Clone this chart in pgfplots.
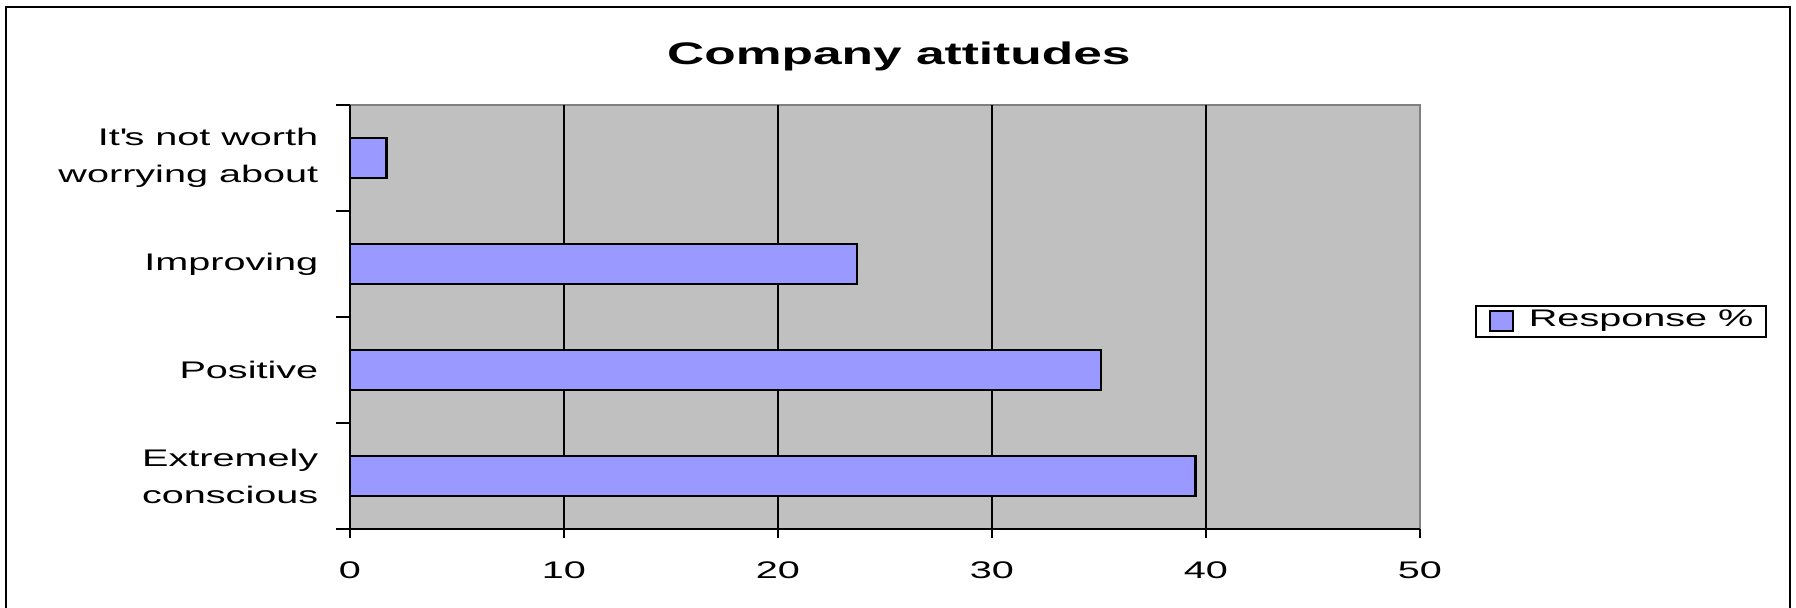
\documentclass[border=0pt]{standalone}
\usepackage{fontspec}
\setmainfont{Liberation Sans}[FakeStretch=1.65]
\usepackage{pgfplots}
\pgfplotsset{compat=1.18}

\definecolor{barblue}{RGB}{153,153,255}
\definecolor{plotgray}{RGB}{192,192,192}
\definecolor{edgegray}{RGB}{128,128,128}

\begin{document}
\begin{tikzpicture}[x=0.25pt,y=0.25pt]
\useasboundingbox (0,0) rectangle (1796,608);
% chart frame (bottom edge is cut off in the original)
\draw[line width=0.7pt] (6,-20) -- (6,601) -- (1790,601) -- (1790,-20);
\coordinate (o) at (350,79);
\begin{axis}[
    at={(o)}, anchor=south west,
    scale only axis,
    width=267.5pt, height=106pt,
    xbar, bar width=10pt,
    xmin=0, xmax=50, ymin=-0.5, ymax=3.5,
    axis x line=bottom, axis y line=left,
    axis line style={-, line width=0.5pt, black},
    axis background/.style={fill=plotgray, draw=edgegray, line width=0.4pt},
    tick align=outside,
    xtick={0,10,...,50},
    major tick length=2.25pt,
    ytick={0,1,2,3},
    major y tick style={draw=none},
    minor ytick={-0.5,0.5,1.5,2.5,3.5},
    minor tick length=3.5pt,
    minor y tick style={draw=black, line width=0.4pt},
    x tick style={black, line width=0.4pt},
    extra x ticks={10,20,30,40},
    extra x tick labels={},
    extra x tick style={xmajorgrids=true},
    major grid style={black, line width=0.45pt},
    yticklabels={{Extremely\\conscious},Positive,Improving,{It\textquotesingle s not worth\\worrying about}},
    /pgf/number format/assume math mode=true,
    tick label style={font=\fontsize{6}{9.25}\selectfont},
    xticklabel style={anchor=center, yshift=-8pt},
    yticklabel style={anchor=east, align=right, inner sep=0pt, xshift=-5.5pt},
    title={Company attitudes},
    title style={at={(0.513,1)}, anchor=base, yshift=4.1pt, font=\fontsize{7.8}{9}\selectfont\bfseries},
    legend image code/.code={\draw[#1, line width=0.5pt] (0pt,-2.5pt) rectangle (5.75pt,2.5pt);},
    legend style={at={(1.188,0.49)}, anchor=center, draw=black, line width=0.5pt, fill=white,
        font=\fontsize{6}{7}\selectfont, inner xsep=3.25pt, inner ysep=1pt,
        nodes={inner sep=0pt}, column sep=3.75pt},
]
\addplot[fill=barblue, draw=black, line width=0.6pt] coordinates {
    (39.5,0) (35.1,1) (23.7,2) (1.7,3)};
\addlegendentry{Response \%}
\end{axis}
\end{tikzpicture}
\end{document}
